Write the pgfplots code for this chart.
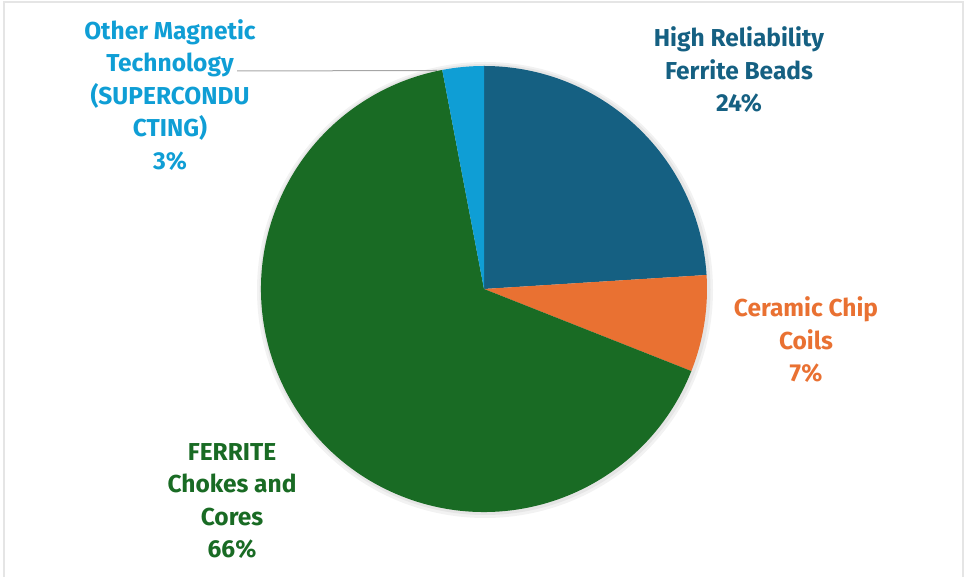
\documentclass[border=0pt]{standalone}
\usepackage{pgfplots}
\usepackage{pgfplotstable}
\pgfplotsset{compat=1.18}
\usepackage{fontspec}
\setmainfont{Fira Sans}
\definecolor{cBlue}{HTML}{156082}
\definecolor{cOrange}{HTML}{E97132}
\definecolor{cGreen}{HTML}{196B24}
\definecolor{cLight}{HTML}{0F9ED5}
\pgfplotstableread{
label value
HighRel 24
Ceramic 7
Ferrite 66
Other 3
}\piedata
\pgfplotstablegetelem{0}{value}\of\piedata \let\va\pgfplotsretval
\pgfplotstablegetelem{1}{value}\of\piedata \let\vb\pgfplotsretval
\pgfplotstablegetelem{2}{value}\of\piedata \let\vc\pgfplotsretval
\pgfplotstablegetelem{3}{value}\of\piedata \let\vd\pgfplotsretval
\pgfmathsetmacro\aA{90}
\pgfmathsetmacro\aB{\aA-3.6*\va}
\pgfmathsetmacro\aC{\aB-3.6*\vb}
\pgfmathsetmacro\aD{\aC-3.6*\vc}
\pgfmathsetmacro\aE{\aD-3.6*\vd}
\begin{document}%
\begin{tikzpicture}
\begin{axis}[
  scale only axis, width=967pt, height=577pt,
  xmin=0, xmax=967, ymin=0, ymax=577,
  hide axis, clip=false]
% frame
\draw[black!10, line width=2pt] (axis cs:4,0) -- (axis cs:4,575) -- (axis cs:963,575) -- (axis cs:963,0);
% shadow
\fill[black!5] (axis cs:485,287) circle[radius=228pt];
\fill[black!10] (axis cs:485,287.5) circle[radius=225.5pt];
% wedges
\fill[cBlue]   (axis cs:484,288) -- ++(\aA:223pt) arc[start angle=\aA, end angle=\aB, radius=223pt] -- cycle;
\fill[cOrange] (axis cs:484,288) -- ++(\aB:223pt) arc[start angle=\aB, end angle=\aC, radius=223pt] -- cycle;
\fill[cGreen]  (axis cs:484,288) -- ++(\aC:223pt) arc[start angle=\aC, end angle=\aD, radius=223pt] -- cycle;
\fill[cLight]  (axis cs:484,288) -- ++(\aD:223pt) arc[start angle=\aD, end angle=\aE, radius=223pt] -- cycle;
% leader line
\draw[black!35, line width=1pt] (axis cs:237,506) -- (axis cs:437,506.5);
% labels
\node[text=cLight, align=center, font=\fontsize{24.5}{32.5}\selectfont\bfseries] at (axis cs:170,482) {Other Magnetic\\Technology\\(SUPERCONDU\\CTING)\\3\%};
\node[text=cBlue, align=center, font=\fontsize{24.5}{32.5}\selectfont\bfseries] at (axis cs:739,507) {High Reliability\\Ferrite Beads\\24\%};
\node[text=cOrange, align=center, font=\fontsize{24.5}{32.5}\selectfont\bfseries] at (axis cs:806,237) {Ceramic Chip\\Coils\\7\%};
\node[text=cGreen, align=center, font=\fontsize{24.5}{32.5}\selectfont\bfseries] at (axis cs:232,76) {FERRITE\\Chokes and\\Cores\\66\%};
\end{axis}
\pgfresetboundingbox
\path (0,0) rectangle (967pt,577pt);
\end{tikzpicture}%
\end{document}
